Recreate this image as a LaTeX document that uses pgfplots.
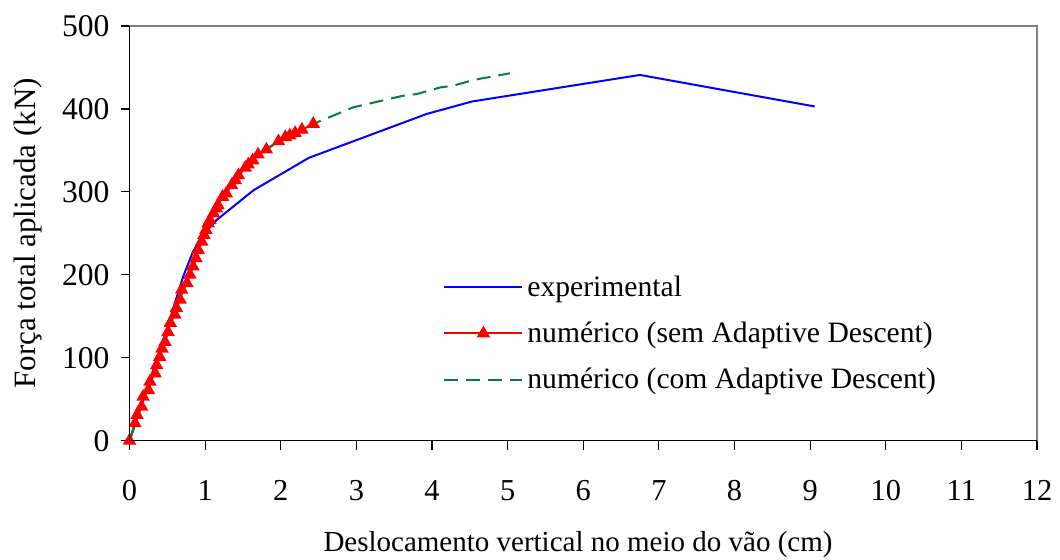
\documentclass[border=0pt]{standalone}
\usepackage{fontspec}
\setmainfont{Liberation Serif}
\usepackage{pgfplots}
\pgfplotsset{compat=1.18}

\definecolor{expblue}{RGB}{0,0,255}
\definecolor{numred}{RGB}{255,0,0}
\definecolor{numgreen}{RGB}{0,128,64}

\begin{document}
\begin{tikzpicture}
\begin{axis}[
  at={(0,0)}, anchor=south west,
  width=453.75pt, height=207.35pt, scale only axis,
  xmin=0, xmax=12, ymin=0, ymax=500,
  xtick={0,1,...,12}, ytick={0,100,...,500},
  tick pos=left, tick align=outside, major tick length=4.5pt,
  tick style={black, line width=0.6pt},
  axis line style={gray, line width=0.65pt},
  font=\fontsize{14.5}{17}\selectfont,
  ticklabel style={font=\fontsize{15.2}{18}\selectfont},
  /pgf/number format/assume math mode=true,
  xticklabel style={anchor=center, yshift=-20.5pt},
  yticklabel style={anchor=east, xshift=-2pt, font=\fontsize{15.8}{18}\selectfont},
  xlabel={Deslocamento vertical no meio do vão (cm)},
  ylabel={Força total aplicada (kN)},
  xlabel style={at={(axis description cs:0.4942,-0.2515)}, anchor=center},
  ylabel style={at={(axis description cs:-0.1118,0.5)}, anchor=center,
    font=\fontsize{15.5}{18}\selectfont},
  legend cell align=left,
  legend style={draw=none, fill=none, inner sep=0pt,
    at={(axis description cs:0.3455,0.409)}, anchor=north west,
    row sep=7.3pt, font=\fontsize{14.8}{17}\selectfont},
  legend image code/.code={%
    \draw[mark repeat=2, mark phase=2, #1]
      plot coordinates {(0pt,0pt) (19.5pt,0pt) (39pt,0pt)};},
  after end axis/.code={%
    \draw[black, line width=0.65pt] (rel axis cs:0,1) -- (rel axis cs:0,0) -- (rel axis cs:1,0);},
]
% experimental
\addplot[expblue, line width=1pt, no marks] coordinates {
  (0,0) (0.45,122) (0.71,198) (0.84,228) (0.97,248) (1.15,266)
  (1.64,302) (2.37,341) (3.93,394) (4.53,409) (6.75,441) (9.06,403)
};
\addlegendentry{experimental}
% numerico sem Adaptive Descent
\addplot[numred, line width=1pt, mark=triangle*, mark size=2.9pt,
  mark options={solid, fill=numred}] coordinates {
  (0,0) (0.073,21) (0.10,31) (0.16,41) (0.18,53) (0.25,61) (0.27,71)
  (0.34,81) (0.36,91) (0.40,101) (0.43,111) (0.47,119) (0.51,131)
  (0.54,142) (0.60,152) (0.62,160) (0.67,170) (0.69,182) (0.76,190)
  (0.80,200) (0.84,210) (0.88,220) (0.91,230) (0.955,240) (0.985,248)
  (1.01,254) (1.04,262) (1.065,266) (1.11,274) (1.15,280) (1.17,284)
  (1.23,294) (1.28,298) (1.35,308) (1.40,314) (1.44,320) (1.53,329)
  (1.57,333) (1.63,338) (1.70,345) (1.81,351) (1.97,361) (2.06,366)
  (2.12,368) (2.19,371) (2.28,375) (2.43,382)
};
\addlegendentry{numérico (sem Adaptive Descent)}
% numerico com Adaptive Descent
\addplot[numgreen, line width=1pt, dash pattern=on 7pt off 4pt, no marks] coordinates {
  (0,0) (0.27,71) (0.54,142) (0.84,210) (1.04,262) (1.23,294)
  (1.44,320) (1.70,345) (1.97,361) (2.19,371) (2.43,382) (2.96,402)
  (3.62,416) (3.80,418) (4.11,426) (4.28,428) (4.55,435) (5.03,443)
};
\addlegendentry{numérico (com Adaptive Descent)}
\end{axis}
\pgfresetboundingbox
\path (-64.75pt,-59.15pt) rectangle (465.25pt,220.35pt);
\end{tikzpicture}
\end{document}
